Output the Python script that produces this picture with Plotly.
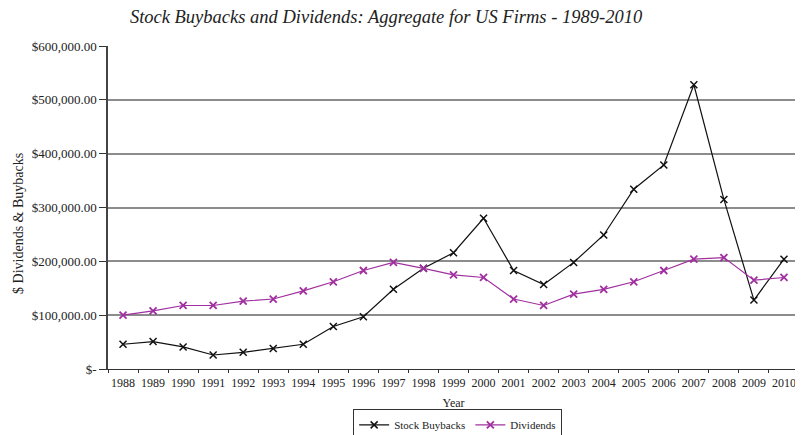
import plotly.graph_objects as go

years = [str(y) for y in range(1988, 2011)]
buybacks = [46000, 51000, 41000, 26000, 31000, 38000, 46000, 79000, 97000, 148000,
            187000, 216000, 280000, 183000, 157000, 198000, 249000, 334000, 379000,
            528000, 315000, 128000, 204000]
dividends = [100000, 108000, 118000, 118000, 126000, 130000, 145000, 162000, 183000,
             198000, 187000, 175000, 170000, 130000, 118000, 139000, 148000, 162000,
             183000, 204000, 207000, 165000, 170000]
y_tickvals = [0, 100000, 200000, 300000, 400000, 500000, 600000]
y_ticktext = ["$-", "$100,000.00", "$200,000.00", "$300,000.00", "$400,000.00",
              "$500,000.00", "$600,000.00"]

font_family = "Liberation Serif"

fig = go.Figure()
fig.add_trace(go.Scatter(
    x=years, y=buybacks, name="Stock Buybacks", mode="lines+markers",
    line=dict(color="#111111", width=1.2),
    marker=dict(symbol="x-thin", size=7, line=dict(color="#111111", width=1.5)),
))
fig.add_trace(go.Scatter(
    x=years, y=dividends, name="Dividends", mode="lines+markers",
    line=dict(color="#A0309F", width=1.2),
    marker=dict(symbol="x-thin", size=7, line=dict(color="#A0309F", width=1.8)),
))

# the page body has an 8px margin, so the figure is drawn 8px in from the top-left
fig.update_layout(
    width=795, height=427,
    margin=dict(l=100, r=4, t=38, b=66, autoexpand=False),
    paper_bgcolor="white", plot_bgcolor="white",
    font=dict(family=font_family, size=12, color="#222222"),
    title=dict(text="<i>Stock Buybacks and Dividends: Aggregate for US Firms - 1989-2010</i>",
               x=0.4755, xanchor="center", y=0.979, yanchor="middle",
               font=dict(family=font_family, size=18.5, color="#222222")),
    showlegend=True,
    legend=dict(orientation="h", x=0.506, xanchor="center", y=-0.173, yanchor="middle",
                bordercolor="#333333", borderwidth=1, bgcolor="white",
                font=dict(family=font_family, size=11, color="#222222"),
                itemwidth=30, tracegroupgap=0),
    annotations=[dict(text="$ Dividends & Buybacks", textangle=-90,
                      xref="paper", yref="paper", x=-0.1303, y=0.452,
                      xanchor="center", yanchor="middle", showarrow=False,
                      font=dict(family=font_family, size=14, color="#222222"))],
)
fig.update_xaxes(
    type="category", range=[-0.5, len(years) - 0.5],
    tickson="boundaries", ticks="outside", ticklen=3,
    tickcolor="#333333", showline=True, linecolor="#333333", linewidth=1,
    showgrid=False, tickangle=0, automargin=False, ticklabelstandoff=3,
    title=dict(text="Year", standoff=9, font=dict(family=font_family, size=12)),
    tickfont=dict(family=font_family, size=12),
)
fig.update_yaxes(
    range=[0, 600000], tickvals=y_tickvals, ticktext=y_ticktext,
    ticks="outside", ticklen=7, tickcolor="#333333", automargin=False,
    showline=True, linecolor="#444444", linewidth=1.5,
    showgrid=True, gridcolor="#8c8c8c", gridwidth=2, zeroline=False,
    tickfont=dict(family=font_family, size=13),
)

fig.write_html("out.html")
